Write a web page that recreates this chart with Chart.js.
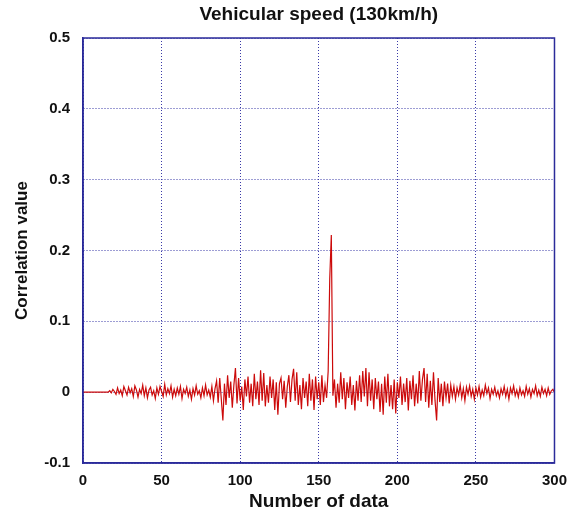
<!DOCTYPE html>
<html>
<head>
<meta charset="utf-8">
<script src="https://cdn.jsdelivr.net/npm/chart.js@4.4.1/dist/chart.umd.min.js"></script>
<style>
html,body{margin:0;padding:0;background:#fff;}
#wrap{width:576px;height:515px;position:relative;}
</style>
</head>
<body>
<div id="wrap"><canvas id="c" width="576" height="515"></canvas></div>
<script>
const chartTitle = "Vehicular speed (130km/h)";
const xAxisTitle = "Number of data";
const yAxisTitle = "Correlation value";
const yTickValues = [-0.1, 0, 0.1, 0.2, 0.3, 0.4, 0.5];
const xTickValues = [0, 50, 100, 150, 200, 250, 300];

// correlation values for data index 0..300
const correlation = [
  0,0,0,0,0,0,0,0,0,0,0,0,0,0,0,0,0,
  0.002,-0.001,0.004,0.001,-0.003,0.006,-0.002,0.003,-0.005,0.008,0.002,-0.004,0.007,-0.001,
  0.005,-0.006,0.009,0.003,-0.007,0.004,-0.002,0.010,-0.005,0.006,-0.008,0.003,0.007,-0.004,0.002,
  -0.009,0.006,-0.003,0.008,0.001,-0.006,0.011,-0.004,0.005,-0.002,0.009,-0.007,0.004,-0.005,0.006,
  -0.003,0.008,-0.009,0.004,-0.002,0.007,-0.006,0.003,-0.010,0.005,-0.004,0.009,-0.003,0.002,-0.008,
  0.006,-0.005,0.010,-0.004,0.003,-0.007,0.008,-0.012,0.005,0.016,
  -0.015,0.020,-0.010,-0.040,0.012,-0.018,0.024,-0.008,0.015,-0.022,0.010,0.034,-0.016,0.020,-0.012,
  0.008,-0.025,0.018,-0.006,0.022,-0.015,0.012,-0.020,0.026,-0.010,0.015,-0.018,0.031,-0.012,0.027,
  -0.020,0.010,-0.015,0.022,-0.008,0.018,-0.025,0.014,-0.032,0.012,0.020,-0.010,0.016,-0.022,0.008,
  0.024,-0.014,0.018,0.033,-0.012,0.028,-0.018,0.010,-0.024,0.020,-0.008,0.015,-0.020,0.026,-0.012,
  0.018,-0.025,0.022,-0.010,0.014,-0.018,0.024,-0.014,0.010,-0.008,0.030,
  0.160,0.222,-0.005,
  0.018,-0.022,0.012,-0.015,0.028,-0.010,0.020,-0.024,0.014,-0.008,0.022,-0.018,0.010,-0.026,0.016,-0.012,
  0.024,-0.014,0.030,-0.006,0.034,-0.020,0.028,-0.012,0.018,-0.024,0.020,-0.010,0.015,-0.028,0.012,
  -0.032,0.022,-0.015,0.026,-0.020,0.010,-0.024,0.018,-0.030,0.014,-0.008,0.022,-0.018,0.012,-0.014,
  0.020,-0.026,0.016,-0.010,0.024,-0.020,0.012,-0.016,0.030,-0.012,0.018,0.034,-0.014,0.026,-0.022,
  0.016,-0.018,0.028,-0.012,-0.040,0.020,-0.014,0.012,-0.020,0.015,-0.008,0.012,-0.016,0.010,-0.006,
  0.008,-0.010,0.006,-0.004,0.010,-0.008,0.005,-0.012,0.007,-0.003,0.009,-0.006,0.004,-0.010,0.006,
  -0.004,0.008,-0.007,0.003,-0.005,0.010,-0.002,0.006,-0.009,0.004,-0.003,0.007,-0.005,0.002,-0.008,
  0.005,-0.003,0.008,-0.006,0.004,-0.010,0.006,-0.002,0.009,-0.005,0.003,-0.007,0.006,-0.004,0.002,
  -0.006,0.008,-0.003,0.005,-0.007,0.004,-0.002,0.009,-0.005,0.003,-0.006,0.007,-0.002,0.004,-0.005,0.006,-0.003,0.002,0.004,-0.001
];

const points = correlation.map((v, i) => ({x: i, y: v}));

const FONT = "'Liberation Sans', Arial, Helvetica, sans-serif";
const NAVY = '#2b2b9a';
const GRID = '#3a3aa8';

const frameAndTitle = {
  id: 'frameAndTitle',
  afterDraw(chart) {
    const {ctx, chartArea: a} = chart;
    ctx.save();
    ctx.strokeStyle = NAVY;
    ctx.lineWidth = 1.5;
    ctx.strokeRect(a.left, a.top, a.right - a.left, a.bottom - a.top);
    ctx.fillStyle = '#111';
    ctx.font = 'bold 19px ' + FONT;
    ctx.textAlign = 'center';
    ctx.textBaseline = 'middle';
    ctx.fillText(chartTitle, (a.left + a.right) / 2, 15);
    ctx.restore();
  }
};

new Chart(document.getElementById('c'), {
  type: 'line',
  data: {
    datasets: [{
      data: points,
      borderColor: '#cc0a0a',
      borderWidth: 1.2,
      pointRadius: 0,
      tension: 0,
      fill: false
    }]
  },
  options: {
    responsive: false,
    animation: false,
    events: [],
    layout: {padding: {left: 0, right: 20, top: 38, bottom: 0}},
    plugins: {legend: {display: false}, tooltip: {enabled: false}, title: {display: false}},
    scales: {
      x: {
        type: 'linear',
        min: 0, max: 300,
        afterBuildTicks(scale) { scale.ticks = xTickValues.map(v => ({value: v})); },
        afterFit(scale) { scale.height = 52; },
        grid: {color: GRID, lineWidth: 1, drawTicks: false},
        border: {display: true, color: NAVY, width: 1.5, dash: [1, 2]},
        ticks: {color: '#111', padding: 9, maxRotation: 0, font: {family: FONT, size: 15, weight: 'bold'}},
        title: {display: true, text: xAxisTitle, color: '#111', padding: {top: 0, bottom: 2}, font: {family: FONT, size: 19, weight: 'bold'}}
      },
      y: {
        type: 'linear',
        min: -0.1, max: 0.5,
        afterBuildTicks(scale) { scale.ticks = yTickValues.map(v => ({value: v})); },
        afterFit(scale) { scale.width = 83; },
        grid: {color: GRID, lineWidth: 1, drawTicks: false},
        border: {display: true, color: NAVY, width: 1.5, dash: [1, 2]},
        ticks: {
          color: '#111', padding: 13,
          font: {family: FONT, size: 15, weight: 'bold'},
          callback: (v) => (v === 0 ? '0' : Number(v).toFixed(1))
        },
        title: {display: true, text: yAxisTitle, color: '#111', padding: {top: 12, bottom: 0}, font: {family: FONT, size: 17, weight: 'bold'}}
      }
    }
  },
  plugins: [frameAndTitle]
});
</script>
</body>
</html>
